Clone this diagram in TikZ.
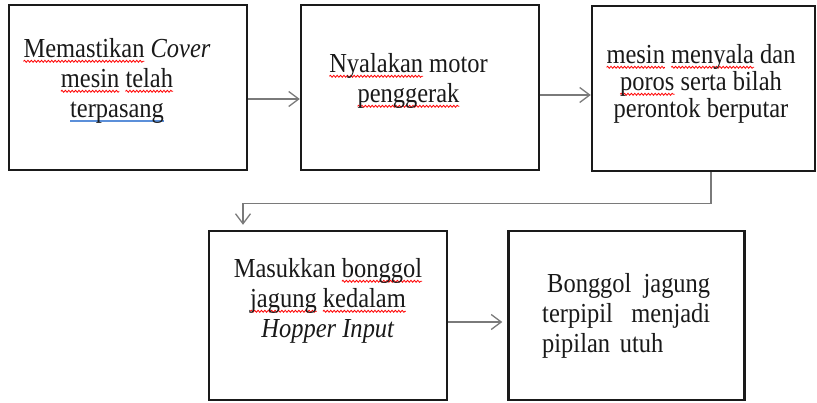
\documentclass[tikz,border=0pt]{standalone}
\usepackage{fontspec}
\setmainfont{Liberation Serif}[FakeStretch=0.89]
\usetikzlibrary{arrows.meta,decorations.pathmorphing}
\definecolor{ublue}{HTML}{5B8FD9}
\definecolor{boxcol}{HTML}{1A1A1A}
\definecolor{arrcol}{HTML}{7A7A7A}
\newdimen\myuw
\newcommand\rw[1]{\setbox0\hbox{#1}\myuw=\wd0\relax\tikz[overlay,baseline=0pt]\draw[red,line width=0.8pt,decorate,decoration={snake,amplitude=1pt,segment length=3.4pt}] (0pt,-4pt) -- (\myuw,-4pt);\box0\relax}
\newcommand\bl[1]{\setbox0\hbox{#1}\rlap{\color{ublue}\rule[-5pt]{\wd0}{2pt}}\box0\relax}
\begin{document}
\begin{tikzpicture}[x=1pt,y=-1pt,
  stepbox/.style={draw=boxcol,line width=2.4pt,inner sep=0pt},
  txt/.style={inner sep=0pt,text=black!90,font=\fontsize{27.5}{30}\selectfont,align=center},
  arr/.style={draw=arrcol,line width=1.4pt,-{Straight Barb[length=10pt,width=15pt,line width=1.3pt]}}]
\useasboundingbox (0,0) rectangle (817,402);
\node[stepbox,minimum width=238pt,minimum height=165pt] (b1) at (128,87.5) {};
\node[stepbox,minimum width=238pt,minimum height=165pt] (b2) at (420,87.5) {};
\node[stepbox,minimum width=223pt,minimum height=165pt] (b3) at (703.5,88.5) {};
\node[stepbox,minimum width=238pt,minimum height=169pt] (b4) at (328,315.5) {};
\node[stepbox,minimum width=236pt,minimum height=169pt] (b5) at (626.5,315.5) {};
\node[txt,anchor=north] (t1) at (117,38) {\rw{Memastikan} \textit{Cover}\\ \rw{mesin} \rw{telah}\\ \bl{terpasang}};
\node[txt,anchor=north] (t2) at (408.5,53) {\rw{Nyalakan} motor\\ \rw{penggerak}};
\node[txt,anchor=north,font=\fontsize{27.5}{27}\selectfont] (t3) at (701,44) {\rw{mesin} \rw{menyala} dan\\ \rw{poros} serta bilah\\ perontok berputar};
\node[txt,anchor=north] (t4) at (328,258) {Masukkan \rw{bonggol}\\ \rw{jagung} \rw{kedalam}\\ \textit{Hopper Input}};
\node[txt,anchor=north west,align=left,text width=168pt] (t5) at (542,273) {\makebox[\linewidth][l]{\hspace{5pt}Bonggol\hfill jagung}\\ \makebox[\linewidth][l]{terpipil\hfill menjadi}\\ pipilan\hspace{0.35em}utuh};
\coordinate (p1) at ([yshift=-11.5pt]b1.east);
\coordinate (p2) at ([yshift=-7.5pt]b2.east);
\coordinate (p4) at ([yshift=-6.5pt]b4.east);
\draw[arr] (p1) -- (p1 -| b2.west);
\draw[arr] (p2) -- (p2 -| b3.west);
\draw[arr] ([xshift=7.5pt]b3.south) -- ++(0,31) -| ([xshift=-85pt,yshift=5pt]b4.north);
\draw[arr] (p4) -- ([xshift=-5pt]p4 -| b5.west);
\end{tikzpicture}
\end{document}
